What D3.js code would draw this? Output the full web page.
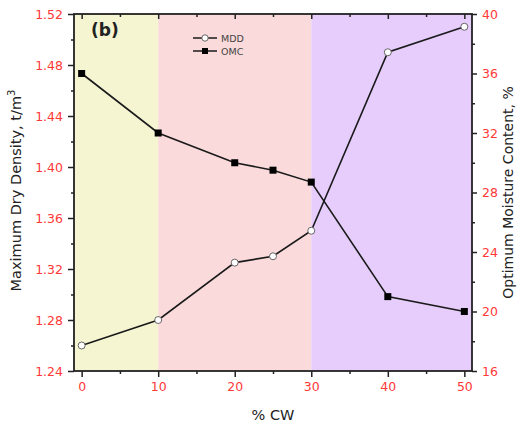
<!DOCTYPE html>
<html><head><meta charset="utf-8">
<script src="https://cdn.jsdelivr.net/npm/d3@7"></script>
<style>body{margin:0;background:#fff}svg{display:block}</style>
</head><body>
<svg id="c" width="518" height="426"></svg>
<script>
const cw = [0, 10, 20, 25, 30, 40, 50];
const mdd = [1.26, 1.28, 1.325, 1.33, 1.35, 1.49, 1.51];
const omc = [36, 32, 30, 29.5, 28.7, 21, 20];
const xTicks = [0, 10, 20, 30, 40, 50];
const yLeftTicks = [1.24, 1.28, 1.32, 1.36, 1.40, 1.44, 1.48, 1.52];
const yRightTicks = [16, 20, 24, 28, 32, 36, 40];
const zones = [[-1, 10, "#f5f5d2"], [10, 30, "#fadada"], [30, 51, "#e6cdfc"]];

const svg = d3.select("#c");
const L = 74, R = 472, T = 14, B = 371;
const x = d3.scaleLinear().domain([-1, 51]).range([L, R]);
const yl = d3.scaleLinear().domain([1.24, 1.52]).range([B, T]);
const yr = d3.scaleLinear().domain([16, 40]).range([B, T]);
const font = "'DejaVu Sans', Verdana, sans-serif";
const red = "#ff3838";

svg.selectAll("rect.zone").data(zones).enter().append("rect")
  .attr("x", d => x(d[0])).attr("width", d => x(d[1]) - x(d[0]))
  .attr("y", T).attr("height", B - T).attr("fill", d => d[2]);

function styleAxis(g) {
  g.select(".domain").remove();
  g.selectAll("line").attr("stroke", "#222").attr("stroke-width", 1.5);
  g.selectAll("text").attr("fill", red).style("font-family", font).style("font-size", "12.5px");
}
const minorX = d3.range(-0, 51, 5);
svg.append("g").attr("transform", `translate(0,${B})`)
  .call(d3.axisBottom(x).tickValues(xTicks).tickSize(6).tickPadding(5).tickFormat(d3.format("d"))).call(styleAxis);
svg.append("g").attr("transform", `translate(0,${B})`)
  .call(d3.axisBottom(x).tickValues(minorX.filter(v => v % 10)).tickSize(3).tickFormat(""))
  .call(styleAxis);
svg.append("g").attr("transform", `translate(0,${T})`)
  .call(d3.axisTop(x).tickValues(xTicks).tickSize(-5).tickFormat("")).call(styleAxis);
svg.append("g").attr("transform", `translate(0,${T})`)
  .call(d3.axisTop(x).tickValues(minorX.filter(v => v % 10)).tickSize(-3).tickFormat("")).call(styleAxis);
svg.append("g").attr("transform", `translate(${L},0)`)
  .call(d3.axisLeft(yl).tickValues(yLeftTicks).tickSize(6).tickPadding(5).tickFormat(d3.format(".2f"))).call(styleAxis);
svg.append("g").attr("transform", `translate(${L},0)`)
  .call(d3.axisLeft(yl).tickValues(yLeftTicks.slice(0, -1).map(v => v + 0.02)).tickSize(3).tickFormat("")).call(styleAxis);
svg.append("g").attr("transform", `translate(${R},0)`)
  .call(d3.axisRight(yr).tickValues(yRightTicks).tickSize(5).tickPadding(5).tickFormat(d3.format("d"))).call(styleAxis);
svg.append("g").attr("transform", `translate(${R},0)`)
  .call(d3.axisRight(yr).tickValues(yRightTicks.slice(0, -1).map(v => v + 2)).tickSize(3).tickFormat("")).call(styleAxis);

svg.append("rect").attr("x", L).attr("y", T).attr("width", R - L).attr("height", B - T)
  .attr("fill", "none").attr("stroke", "#222").attr("stroke-width", 1.8);

const lineM = d3.line().x((d, i) => x(cw[i])).y(d => yl(d));
const lineO = d3.line().x((d, i) => x(cw[i])).y(d => yr(d));
svg.append("path").attr("d", lineM(mdd)).attr("fill", "none").attr("stroke", "#1a1a1a").attr("stroke-width", 1.6);
svg.append("path").attr("d", lineO(omc)).attr("fill", "none").attr("stroke", "#1a1a1a").attr("stroke-width", 1.6);
svg.selectAll("circle.m").data(mdd).enter().append("circle")
  .attr("cx", (d, i) => x(cw[i])).attr("cy", d => yl(d)).attr("r", 3.5)
  .attr("fill", "#fff").attr("stroke", "#666").attr("stroke-width", 1);
svg.selectAll("rect.o").data(omc).enter().append("rect")
  .attr("x", (d, i) => x(cw[i]) - 3.5).attr("y", d => yr(d) - 3.5).attr("width", 7).attr("height", 7)
  .attr("fill", "#000");

const lg = svg.append("g");
lg.append("line").attr("x1", 193).attr("x2", 217).attr("y1", 38).attr("y2", 38).attr("stroke", "#1a1a1a").attr("stroke-width", 1.5);
lg.append("circle").attr("cx", 205).attr("cy", 38).attr("r", 3.2).attr("fill", "#fff").attr("stroke", "#666");
lg.append("line").attr("x1", 193).attr("x2", 217).attr("y1", 51).attr("y2", 51).attr("stroke", "#1a1a1a").attr("stroke-width", 1.5);
lg.append("rect").attr("x", 202).attr("y", 48).attr("width", 6).attr("height", 6).attr("fill", "#000");
lg.append("text").attr("x", 221).attr("y", 41.5).text("MDD").style("font-family", font).style("font-size", "9.5px").attr("fill", "#444");
lg.append("text").attr("x", 221).attr("y", 54.5).text("OMC").style("font-family", font).style("font-size", "9.5px").attr("fill", "#444");

svg.append("text").attr("x", 91).attr("y", 36).text("(b)").style("font-family", font)
  .style("font-size", "17px").style("font-weight", "bold").attr("fill", "#222");

const lt = svg.append("text").attr("transform", `translate(21,${(T + B) / 2 - 2}) rotate(-90)`)
  .attr("text-anchor", "middle").style("font-family", font).style("font-size", "14.5px").attr("fill", "#222");
lt.append("tspan").text("Maximum Dry Density, t/m");
lt.append("tspan").text("3").attr("dy", -6).style("font-size", "10px");
svg.append("text").attr("transform", `translate(513,${(T + B) / 2}) rotate(-90)`)
  .attr("text-anchor", "middle").style("font-family", font).style("font-size", "14px").attr("fill", "#222")
  .text("Optimum Moisture Content, %");
svg.append("text").attr("x", 273).attr("y", 420).attr("text-anchor", "middle")
  .style("font-family", font).style("font-size", "14.5px").attr("fill", "#222").text("% CW");
</script>
</body></html>
